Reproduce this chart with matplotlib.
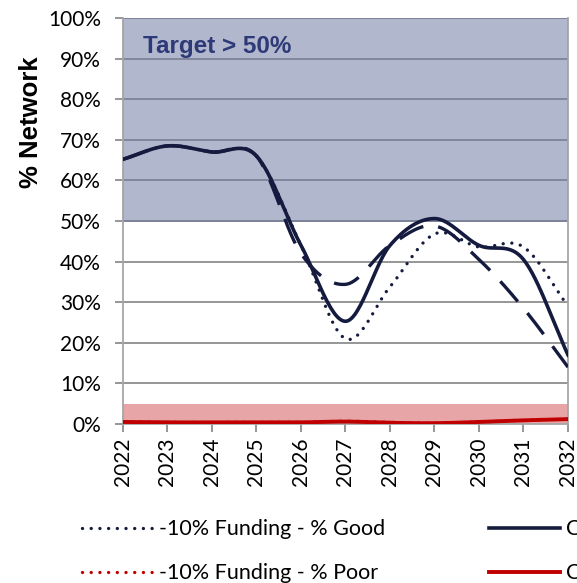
import numpy as np
import matplotlib
matplotlib.use("Agg")
import matplotlib.pyplot as plt
from matplotlib.ticker import FuncFormatter

years = [2022, 2023, 2024, 2025, 2026, 2027, 2028, 2029, 2030, 2031, 2032]
current_good = [65.2, 68.5, 67.0, 66.0, 44.0, 25.3, 44.0, 50.6, 44.0, 40.5, 17.0]
minus10_good = [65.2, 68.5, 67.0, 66.0, 44.0, 21.0, 33.8, 46.8, 43.6, 43.6, 29.0]
dashed_good = [65.2, 68.5, 67.0, 66.0, 42.0, 34.4, 44.0, 48.8, 40.5, 28.5, 14.0]
current_poor = [0.5, 0.4, 0.4, 0.4, 0.4, 0.6, 0.3, 0.2, 0.5, 0.9, 1.2]
minus10_poor = [0.5, 0.4, 0.4, 0.4, 0.4, 0.7, 0.4, 0.2, 0.5, 0.9, 1.2]
target_band = [50, 100]
poor_band = [0, 5]
y_ticks = [0, 10, 20, 30, 40, 50, 60, 70, 80, 90, 100]


def smooth(x, y, n=30):
    """Catmull-Rom style smoothing like Excel's smoothed line."""
    x = np.asarray(x, float)
    y = np.asarray(y, float)
    px = np.concatenate([[2 * x[0] - x[1]], x, [2 * x[-1] - x[-2]]])
    py = np.concatenate([[2 * y[0] - y[1]], y, [2 * y[-1] - y[-2]]])
    xs, ys = [], []
    t = np.linspace(0, 1, n, endpoint=False)
    for i in range(1, len(px) - 2):
        p0, p1, p2, p3 = py[i - 1], py[i], py[i + 1], py[i + 2]
        q0, q1, q2, q3 = px[i - 1], px[i], px[i + 1], px[i + 2]
        f = lambda a0, a1, a2, a3: 0.5 * ((2 * a1) + (-a0 + a2) * t +
                                          (2 * a0 - 5 * a1 + 4 * a2 - a3) * t ** 2 +
                                          (-a0 + 3 * a1 - 3 * a2 + a3) * t ** 3)
        xs.append(f(q0, q1, q2, q3))
        ys.append(f(p0, p1, p2, p3))
    xs.append([x[-1]])
    ys.append([y[-1]])
    return np.concatenate(xs), np.concatenate(ys)


navy = "#151B3F"
red = "#C00000"
tick_font = "Lato"

fig = plt.figure(figsize=(5.77, 5.83), dpi=100)
ax = fig.add_axes([123 / 577, 1 - 424 / 583, 445 / 577, 406 / 583])

ax.axhspan(target_band[0], target_band[1], facecolor="#B1B7CC", edgecolor="#858BA3", lw=1.2, zorder=0)
ax.axhspan(poor_band[0], poor_band[1], xmin=-0.005, xmax=1.0, facecolor="#E8A5A7", edgecolor="none", zorder=0.5)

for yt in y_ticks[1:]:
    ax.axhline(yt, color="#8E8E8E" if yt < 50 else "#7C8298", lw=1.3, zorder=1)

x, y = smooth(years, minus10_good)
ax.plot(x, y, color=navy, lw=2.4, linestyle=(0, (0.01, 2.6)), dash_capstyle="round", zorder=3,
        label="-10% Funding - % Good")
x, y = smooth(years, dashed_good)
ax.plot(x, y, color=navy, lw=2.4, linestyle=(0, (8, 4.5)), zorder=3, label="_dashed")
x, y = smooth(years, minus10_poor)
ax.plot(x, y, color=red, lw=2.4, linestyle=(0, (0.01, 2.6)), dash_capstyle="round", zorder=3,
        label="-10% Funding - % Poor")
x, y = smooth(years, current_good)
ax.plot(x, y, color=navy, lw=2.6, zorder=4, label="Current Funding - % Good")
x, y = smooth(years, current_poor)
ax.plot(x, y, color=red, lw=2.8, zorder=4, label="Current Funding - % Poor")

ax.set_xlim(years[0], years[-1])
ax.set_ylim(0, 100)
ax.set_xticks(years)
ax.set_xticklabels([str(v) for v in years], rotation=90, fontsize=15, family=tick_font)
ax.set_yticks(y_ticks)
ax.yaxis.set_major_formatter(FuncFormatter(lambda v, p: f"{int(v)}%"))
for lab in ax.get_yticklabels():
    lab.set_fontsize(15)
    lab.set_family(tick_font)
ax.tick_params(axis="both", colors="#8E8E8E", labelcolor="black", length=6, width=1.3)
ax.tick_params(axis="y", pad=10)
ax.tick_params(axis="x", pad=4)

for s in ["left", "bottom", "right", "top"]:
    ax.spines[s].set_color("#A6A6A6")
    ax.spines[s].set_linewidth(1.3)
ax.spines["top"].set_visible(False)

ax.set_ylabel("% Network", fontsize=18.5, fontweight="bold", family="Liberation Sans")
ax.yaxis.set_label_coords(-0.18, 0.744)
ax.text(0.045, 0.958, "Target > 50%", transform=ax.transAxes, fontsize=17.5, fontweight="bold",
        family="Liberation Sans", color="#2E3A78", ha="left", va="top")

h, l = ax.get_legend_handles_labels()
order = ["-10% Funding - % Good", "-10% Funding - % Poor", "Current Funding - % Good", "Current Funding - % Poor"]
hh = [h[l.index(o)] for o in order]
fig.legend(hh, order, ncol=2, loc="upper left", bbox_to_anchor=(63 / 577, 1 - 500 / 583),
           frameon=False, prop={"family": tick_font, "size": 15.5}, handlelength=3.3,
           handletextpad=0.25, columnspacing=4.85, labelspacing=1.1)

fig.savefig("out.png", dpi=100)
